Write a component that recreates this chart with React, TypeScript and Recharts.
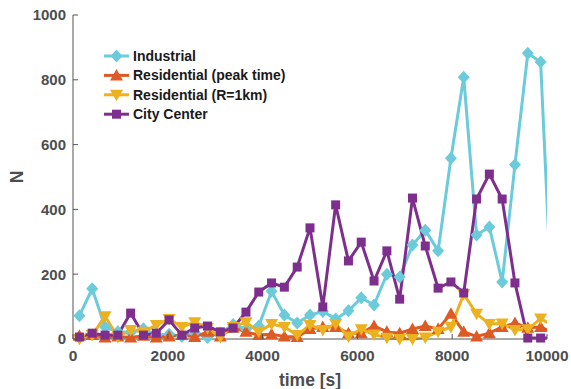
import React from "react";
import { LineChart, Line, XAxis, YAxis, Label } from "recharts";

document.body.style.margin = "0";

const times = [135, 405, 676, 946, 1216, 1486, 1757, 2027, 2297, 2568, 2838, 3108, 3378, 3649, 3919, 4189, 4459, 4730, 5000, 5270, 5541, 5811, 6081, 6351, 6622, 6892, 7162, 7432, 7703, 7973, 8243, 8514, 8784, 9054, 9324, 9595, 9865, 10135];
const industrial = [72, 155, 37, 22, 20, 32, 12, 15, 8, 20, 5, 18, 45, 30, 40, 147, 74, 49, 74, 85, 62, 87, 127, 105, 200, 191, 290, 336, 272, 558, 808, 321, 346, 176, 538, 882, 855, 0];
const residentialPeak = [10, 12, 5, 8, 5, 10, 5, 8, 12, 6, 22, 8, 35, 22, 12, 15, 8, 6, 31, 37, 37, 18, 18, 40, 22, 18, 31, 40, 31, 78, 22, 8, 18, 37, 49, 35, 37, 20];
const residentialR1 = [0, 12, 70, 6, 28, 22, 43, 62, 37, 52, 34, 6, 37, 52, 22, 46, 37, 12, 43, 28, 46, 8, 30, 14, 4, 0, 0, 5, 22, 37, 138, 78, 46, 48, 28, 30, 63, 40];
const cityCenter = [6, 18, 12, 12, 80, 12, 18, 59, 12, 34, 40, 22, 34, 83, 145, 173, 160, 222, 343, 99, 414, 241, 299, 179, 272, 123, 435, 287, 157, 176, 142, 432, 509, 432, 173, 3, 3, 3];

const xTicks = [0, 2000, 4000, 6000, 8000, 10000];
const yTicks = [0, 200, 400, 600, 800, 1000];

const series = [
  { key: "industrial", name: "Industrial", color: "#6BCBDB", shape: "diamond" },
  { key: "residentialPeak", name: "Residential (peak time)", color: "#DE5A24", shape: "up" },
  { key: "residentialR1", name: "Residential (R=1km)", color: "#EDB120", shape: "down" },
  { key: "cityCenter", name: "City Center", color: "#7E2F8E", shape: "square" },
];

const rows = times.map((time, i) => ({
  time,
  dotTime: time <= 10000 ? time : undefined,
  industrial: industrial[i],
  residentialPeak: residentialPeak[i],
  residentialR1: residentialR1[i],
  cityCenter: cityCenter[i],
}));

const FONT = "'Liberation Sans', Arial, sans-serif";
const AXIS = "#555";
const TICKTEXT = "#4D4D4D";

function Marker({ shape, cx, cy, color }: any) {
  if (shape === "diamond") {
    return <polygon points={`${cx},${cy - 6.5} ${cx + 6},${cy} ${cx},${cy + 6.5} ${cx - 6},${cy}`} fill={color} />;
  }
  if (shape === "up") {
    return <polygon points={`${cx},${cy - 6.5} ${cx + 6.5},${cy + 5} ${cx - 6.5},${cy + 5}`} fill={color} />;
  }
  if (shape === "down") {
    return <polygon points={`${cx},${cy + 6.5} ${cx + 6.5},${cy - 5} ${cx - 6.5},${cy - 5}`} fill={color} />;
  }
  return <rect x={cx - 4.5} y={cy - 4.5} width={9} height={9} fill={color} />;
}

const makeDot = (shape: string, color: string) => (props: any) => {
  const { cx, cy, payload, index } = props;
  if (payload.dotTime === undefined || cx == null || isNaN(cx)) return <g key={index} />;
  return <Marker key={index} shape={shape} cx={cx} cy={cy} color={color} />;
};

const BottomTick = ({ x, y, payload }: any) => (
  <g>
    <line x1={x} y1={y} x2={x} y2={y - 5} stroke={AXIS} />
    <text x={x} y={y + 22} textAnchor="middle" fontFamily={FONT} fontWeight="bold" fontSize={15.5} fill={TICKTEXT}>
      {payload.value}
    </text>
  </g>
);
const TopTick = ({ x, y }: any) => <line x1={x} y1={y} x2={x} y2={y + 5} stroke={AXIS} />;
const LeftTick = ({ x, y, payload }: any) => (
  <g>
    <line x1={x} y1={y} x2={x + 5} y2={y} stroke={AXIS} />
    <text x={x - 7} y={y} dy="0.36em" textAnchor="end" fontFamily={FONT} fontWeight="bold" fontSize={15} fill={TICKTEXT}>
      {payload.value}
    </text>
  </g>
);
const RightTick = ({ x, y }: any) => <line x1={x} y1={y} x2={x - 5} y2={y} stroke={AXIS} />;

function LegendBox() {
  return (
    <svg width={260} height={100} style={{ position: "absolute", left: 96, top: 40 }}>
      {series.map((s, i) => {
        const y = 16 + i * 19.4;
        return (
          <g key={s.key}>
            <line x1={8} y1={y} x2={33} y2={y} stroke={s.color} strokeWidth={3} />
            <Marker shape={s.shape} cx={20.5} cy={y} color={s.color} />
            <text x={37} y={y + 5} fontFamily={FONT} fontWeight="bold" fontSize={14} fill="#1a1a1a">
              {s.name}
            </text>
          </g>
        );
      })}
    </svg>
  );
}

export default function App() {
  return (
    <div style={{ position: "relative", width: 571, height: 389, background: "#fff" }}>
      <LineChart width={571} height={389} data={rows} margin={{ top: 15, right: 24, bottom: 0, left: 0 }}>
        <XAxis
          xAxisId="b"
          dataKey="time"
          type="number"
          domain={[0, 10000]}
          ticks={xTicks}
          interval={0}
          allowDataOverflow
          height={50}
          tickSize={0}
          tickMargin={0}
          tickLine={false}
          tick={<BottomTick />}
          axisLine={{ stroke: AXIS }}
        >
          <Label
            content={({ viewBox }: any) => (
              <text x={viewBox.x + viewBox.width / 2} y={386} textAnchor="middle" fontFamily={FONT} fontWeight="bold" fontSize={17.5} fill={TICKTEXT}>
                time [s]
              </text>
            )}
          />
        </XAxis>
        <XAxis
          xAxisId="t"
          orientation="top"
          dataKey="time"
          type="number"
          domain={[0, 10000]}
          ticks={xTicks}
          interval={0}
          allowDataOverflow
          height={0}
          tickSize={0}
          tickMargin={0}
          tickLine={false}
          tick={<TopTick />}
          axisLine={{ stroke: AXIS }}
        />
        <XAxis xAxisId="m" dataKey="dotTime" type="number" domain={[0, 10000]} hide />
        <YAxis
          yAxisId="l"
          type="number"
          domain={[0, 1000]}
          ticks={yTicks}
          interval={0}
          width={73}
          tickSize={0}
          tickMargin={0}
          tickLine={false}
          tick={<LeftTick />}
          axisLine={{ stroke: AXIS }}
        >
          <Label
            content={({ viewBox }: any) => (
              <text
                x={17}
                y={viewBox.y + viewBox.height / 2}
                transform={`rotate(-90, 17, ${viewBox.y + viewBox.height / 2})`}
                textAnchor="middle"
                dominantBaseline="central"
                fontFamily={FONT}
                fontWeight="bold"
                fontSize={17.5}
                fill={TICKTEXT}
              >
                N
              </text>
            )}
          />
        </YAxis>
        <YAxis
          yAxisId="r"
          orientation="right"
          type="number"
          domain={[0, 1000]}
          ticks={yTicks}
          interval={0}
          width={0}
          tickSize={0}
          tickMargin={0}
          tickLine={false}
          tick={<RightTick />}
          axisLine={{ stroke: AXIS }}
        />
        {series.map((s) => [
          <Line
            key={s.key}
            xAxisId="b"
            yAxisId="l"
            type="linear"
            dataKey={s.key}
            name={s.name}
            stroke={s.color}
            strokeWidth={3}
            dot={false}
            activeDot={false}
            isAnimationActive={false}
          />,
          <Line
            key={s.key + "-m"}
            xAxisId="m"
            yAxisId="l"
            type="linear"
            dataKey={s.key}
            stroke="none"
            dot={makeDot(s.shape, s.color)}
            activeDot={false}
            legendType="none"
            isAnimationActive={false}
          />,
        ])}
      </LineChart>
      <LegendBox />
    </div>
  );
}
